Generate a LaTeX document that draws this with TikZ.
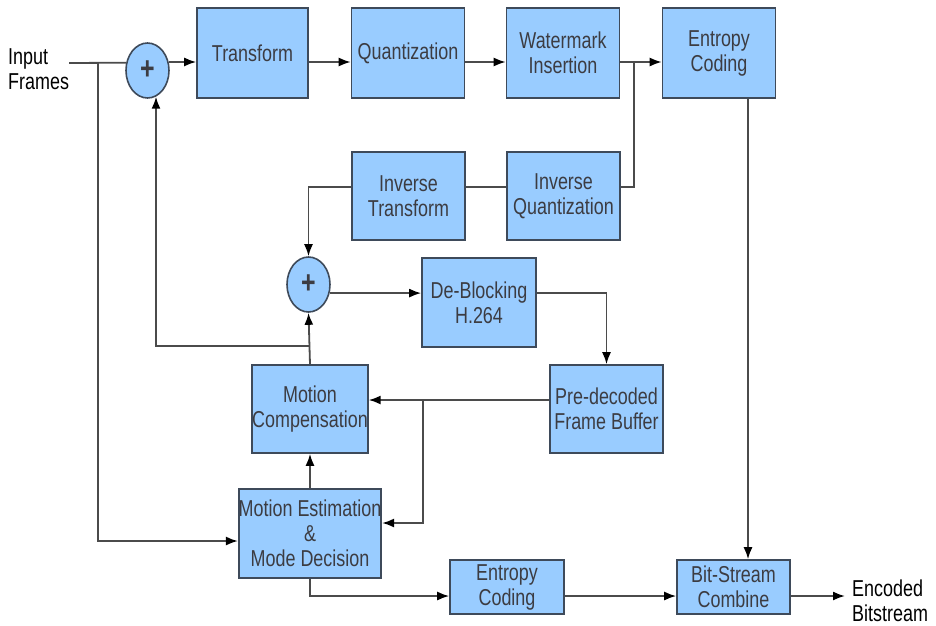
\documentclass[tikz,border=0pt]{standalone}
\usepackage{fontspec}
\setmainfont[FakeStretch=0.78]{Liberation Sans}
\usetikzlibrary{arrows.meta,shapes.geometric}
\definecolor{boxblue}{RGB}{153,204,255}
\definecolor{boxline}{RGB}{62,74,90}
\definecolor{txtgray}{RGB}{60,60,66}
\definecolor{wiregray}{RGB}{75,75,75}

\begin{document}
\begin{tikzpicture}[x=1pt,y=-1pt]
        \tikzset{block/.style={draw=boxline,fill=boxblue,line width=1.6pt,inner sep=0pt,
                minimum width=113pt,minimum height=89pt,align=center,text=txtgray,
                font=\fontsize{23}{25}\selectfont},
            sum/.style={ellipse,draw=boxline,fill=boxblue,line width=1.6pt,inner sep=0pt,
                minimum width=43pt,minimum height=55pt,text=txtgray,
                font=\fontsize{32}{32}\selectfont\bfseries},
            label/.style={inner sep=0pt,align=left,font=\fontsize{23}{25}\selectfont},
            wire/.style={draw=wiregray,line width=1.8pt},
            arr/.style={wire,-{Latex[length=12pt,width=9pt,color=black]}}}
        \useasboundingbox (0,0) rectangle (936,625);
        % blocks
        \node[label,anchor=west] (ifr) at (8,69) {Input\\Frames};
        \node[sum] (sum1) at (147.5,70.5) {+};
        \node[block,minimum width=111pt,minimum height=90pt] (tr) at (252.5,53) {Transform};
        \node[block,minimum height=90pt] (qu) at (408,53) {Quantization};
        \node[block,minimum height=90pt] (wm) at (563,53) {Watermark\\Insertion};
        \node[block,minimum height=90pt] (ec) at (719,53) {Entropy\\Coding};
        \node[block,minimum height=88pt] (it) at (408.5,196) {Inverse\\Transform};
        \node[block,minimum height=88pt] (iq) at (563.5,196) {Inverse\\Quantization};
        \node[sum] (sum2) at (308.5,284.5) {+};
        \node[block,minimum width=114pt] (db) at (479,302.5) {De-Blocking\\H.264};
        \node[block,minimum height=88pt] (pd) at (606.5,409) {Pre-decoded\\Frame Buffer};
        \node[block,minimum width=114pt,minimum height=88pt] (mc) at (310,409) {Motion\\Compensation};
        \node[block,minimum width=142pt] (me) at (310,533.5) {Motion Estimation\\\&\\Mode Decision};
        \node[block,minimum width=114pt,minimum height=54pt] (ec2) at (507,587) {Entropy\\Coding};
        \node[block,minimum height=54pt] (bsc) at (733.5,587) {Bit-Stream\\Combine};
        \node[label,anchor=west] (eb) at (852,601) {Encoded\\Bitstream};
        % junctions
        \coordinate (m) at (0,62);
        \coordinate (fb) at (0,187);
        \coordinate (lo) at (0,596);
        \coordinate (j1) at (98,63);
        \coordinate (j2) at (634,62);
        \coordinate (j3) at (423,400);
        \coordinate (j4) at (310,346);
        \coordinate (j5) at (748,0);
        \coordinate (out) at (845,596);
        % forward path
        \draw[wire] (ifr.east |- j1) -- (sum1.160);
        \draw[arr] (sum1.22) -- (tr.west |- m);
        \draw[arr] (tr.east |- m) -- (qu.west |- m);
        \draw[arr] (qu.east |- m) -- (wm.west |- m);
        \draw[arr] (wm.east |- m) -- (ec.west |- m);
        \draw[arr] (ec.south -| j5) -- (bsc.north -| j5);
        % reconstruction loop
        \draw[wire] (j2) |- (iq.east |- fb);
        \draw[wire] (iq.west |- fb) -- (it.east |- fb);
        \draw[arr] (it.west |- fb) -| (sum2.north);
        \draw[arr] (sum2.-22) -- (db.west |- sum2.-22);
        \draw[arr] (db.east |- sum2.-22) -| (pd.north);
        \draw[arr] (pd.west |- j3) -- (mc.east |- j3);
        \draw[arr] (j3) |- (me.east |- 0,523);
        \draw[arr] (me.north) -- (mc.south);
        \draw[arr] (mc.north) -- (sum2.south);
        \draw[arr] (j4) -| (sum1.288);
        \draw[arr] (j1) |- (me.west |- 0,541);
        % output
        \draw[arr] (me.south) |- (ec2.west |- lo);
        \draw[arr] (ec2.east |- lo) -- (bsc.west |- lo);
        \draw[arr] (bsc.east |- lo) -- (out);
    \end{tikzpicture}
\end{document}
